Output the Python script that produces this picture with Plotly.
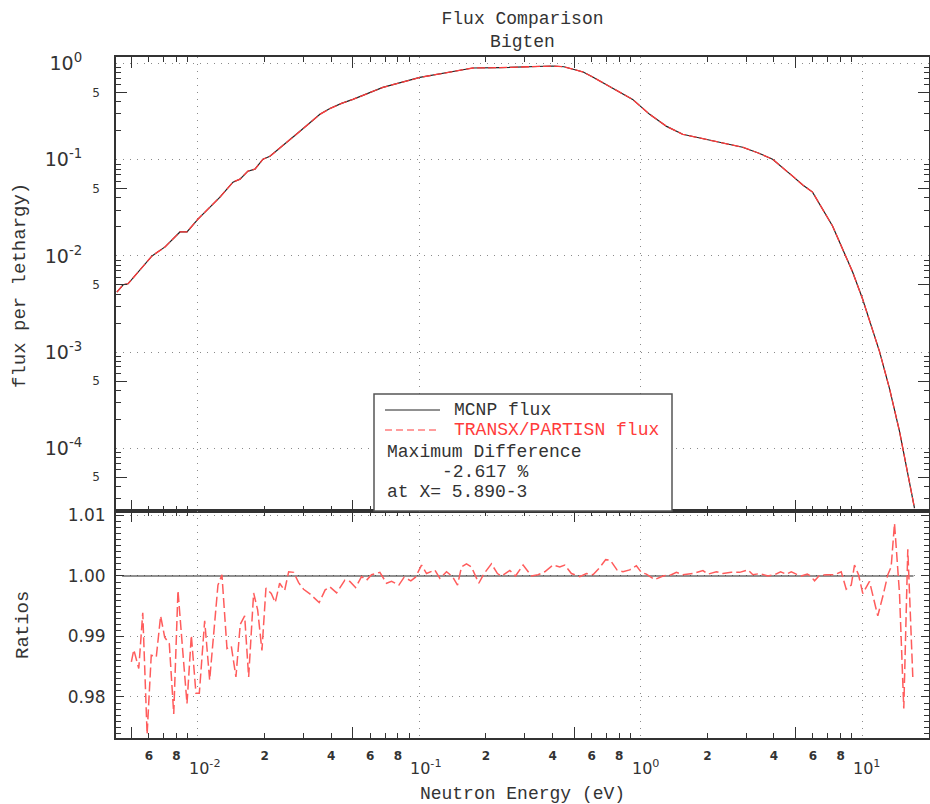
import math
import plotly.graph_objects as go

# ---------------- data ----------------
# Flux per lethargy (MCNP and TRANSX/PARTISN overlap in the top panel)
energy = [4.30e-3, 4.59e-3, 4.83e-3, 5.30e-3, 5.65e-3, 6.20e-3, 7.10e-3, 8.29e-3, 8.92e-3,
          1.0e-2, 1.169e-2, 1.257e-2, 1.439e-2, 1.548e-2, 1.681e-2, 1.808e-2, 1.966e-2,
          2.114e-2, 2.888e-2, 3.555e-2, 3.944e-2, 4.45e-2, 5.01e-2, 6.84e-2, 0.1005, 0.1373,
          0.1744, 0.2309, 0.28, 0.350, 0.4006, 0.45, 0.4932, 0.55, 0.6070, 0.7472, 0.920,
          1.098, 1.31, 1.547, 2.203, 2.887, 3.40, 3.944, 4.856, 5.40, 5.976, 7.358, 9.06,
          10.05, 12.0, 13.31, 14.77, 17.26]
flux = [4.20e-3, 5.01e-3, 5.13e-3, 6.51e-3, 7.69e-3, 1.0e-2, 1.24e-2, 1.773e-2, 1.773e-2,
        2.416e-2, 3.458e-2, 4.088e-2, 5.845e-2, 6.28e-2, 7.60e-2, 7.97e-2, 0.1012,
        0.1087, 0.1973, 0.2961, 0.3400, 0.3850, 0.4235, 0.5641, 0.716, 0.82,
        0.898, 0.905, 0.92, 0.942, 0.942, 0.925, 0.877, 0.816, 0.724, 0.557, 0.4235,
        0.296, 0.222, 0.1837, 0.1555, 0.1347, 0.1174, 0.1012, 0.0675, 0.0546, 0.04604,
        0.02046, 6.83e-3, 3.58e-3, 1.01e-3, 4.18e-4, 1.50e-4, 2.39e-5]

# Ratio TRANSX/PARTISN to MCNP
ratio_energy = [
    5.00e-3, 5.13e-3, 5.40e-3, 5.63e-3, 5.89e-3, 6.15e-3, 6.48e-3, 6.78e-3, 7.07e-3, 7.42e-3,
    7.77e-3, 8.12e-3, 8.53e-3, 8.92e-3, 9.33e-3, 9.79e-3, 1.014e-2, 1.072e-2, 1.129e-2, 1.231e-2,
    1.283e-2, 1.352e-2, 1.414e-2, 1.484e-2, 1.552e-2, 1.625e-2, 1.694e-2, 1.784e-2, 1.860e-2,
    1.945e-2, 2.028e-2, 2.143e-2, 2.234e-2, 2.338e-2, 2.463e-2, 2.568e-2, 2.705e-2, 2.849e-2,
    3.00e-2, 3.214e-2, 3.528e-2, 3.755e-2, 3.944e-2,
    4.229e-2, 4.61e-2, 4.856e-2, 5.152e-2, 5.484e-2, 5.776e-2, 6.084e-2, 6.633e-2, 7.11e-2,
    7.49e-2, 8.08e-2, 8.54e-2, 9.155e-2, 9.61e-2, 0.1023, 0.1078, 0.1175, 0.1238, 0.1327,
    0.1412, 0.1488, 0.1550, 0.1633, 0.1720, 0.1856, 0.1962, 0.2118, 0.2254, 0.2350, 0.2563,
    0.2719, 0.2943, 0.3210, 0.3439, 0.3687,
    0.4018, 0.4309, 0.4539, 0.4865, 0.5304, 0.5687, 0.6091, 0.6530, 0.6950, 0.7297, 0.7816,
    0.8321, 0.8921, 0.9563, 1.007, 1.061, 1.157, 1.261, 1.376, 1.450, 1.552, 1.722, 1.911,
    2.013, 2.197, 2.353, 2.567, 2.799, 3.051, 3.214, 3.445,
    3.756, 4.027, 4.287, 4.549, 4.791, 5.047, 5.316, 5.658, 5.855, 6.104, 6.429, 6.893, 7.514,
    8.054, 8.484, 8.936, 9.248, 9.643, 10.08, 10.81, 11.78, 12.41, 13.08, 13.54, 14.02, 14.77,
    15.44, 16.10, 16.96]
ratio = [
    0.9858, 0.9878, 0.9847, 0.9939, 0.97383, 0.9869, 0.9866, 0.9934, 0.9899, 0.9888,
    0.9772, 0.9976, 0.9877, 0.9789, 0.9902, 0.9806, 0.9806, 0.9926, 0.9828, 0.9985,
    1.0002, 0.9880, 0.9884, 0.9833, 0.9920, 0.9934, 0.9833, 0.9972, 0.9944,
    0.9877, 0.9980, 0.9971, 0.9956, 0.9988, 0.9976, 1.0007, 1.0006, 0.9989,
    0.9978, 0.9970, 0.9956, 0.9977, 0.9982,
    0.9972, 0.9993, 0.9991, 0.9981, 0.9999, 0.9993, 1.0002, 1.0006, 0.9988,
    0.9991, 0.9985, 0.9998, 0.9992, 0.9998, 1.0018, 1.0004, 1.0010, 0.9996, 1.0007,
    0.9999, 0.9985, 1.0015, 1.0020, 1.0015, 0.9988, 1.0004, 1.0020, 1.0004, 1.0000, 1.0009,
    1.0000, 1.0018, 1.0000, 1.0002, 1.0007,
    1.0018, 1.0015, 1.0018, 1.0004, 0.9999, 1.0004, 1.0002, 1.0014, 1.0027, 1.0026, 1.0010,
    1.0007, 1.0010, 1.0017, 1.0006, 1.0003, 0.9994, 1.0000, 1.0002, 1.0006, 1.0002, 1.0004, 1.0009,
    1.0003, 1.0007, 1.0004, 1.0006, 1.0006, 1.0010, 1.0002, 1.0004,
    1.0000, 1.0002, 1.0007, 1.0003, 1.0007, 1.0003, 1.0000, 1.0003, 1.0000, 0.9992, 1.0001, 1.0002, 1.0002,
    1.0007, 0.9978, 0.9985, 1.0018, 1.0002, 0.9971, 0.9991, 0.9934, 0.9966, 1.0002, 1.0015, 1.0087, 0.9971,
    0.9781, 1.0044, 0.9833]

mcnp_ratio_energy = [4.54e-3, 17.08]
mcnp_ratio = [1.0, 1.0]

# tick values / labels
x_label_vals = [6e-3, 8e-3, 2e-2, 4e-2, 6e-2, 8e-2, 0.2, 0.4, 0.6, 0.8, 2, 4, 6, 8, 20]
x_label_text = ["6", "8", "2", "4", "6", "8", "2", "4", "6", "8", "2", "4", "6", "8", "2"]
x_plain_vals = [5e-3, 7e-3, 9e-3, 3e-2, 5e-2, 7e-2, 9e-2, 0.3, 0.5, 0.7, 0.9, 3, 5, 7, 9]
x_half_vals = [5e-3, 5e-2, 0.5, 5]
x_decades = [1e-2, 1e-1, 1, 10]
x_decade_text = ["10<sup>-2</sup>", "10<sup>-1</sup>", "10<sup>0</sup>", "10<sup>1</sup>"]

y_decades = [1e-4, 1e-3, 1e-2, 1e-1, 1]
y_decade_text = ["10<sup>-4</sup>", "10<sup>-3</sup>", "10<sup>-2</sup>", "10<sup>-1</sup>", "10<sup>0</sup>"]
y_half_vals = [5e-5, 5e-4, 5e-3, 5e-2, 0.5]
y_half_text = ["5", "5", "5", "5", "5"]
y_minor_vals = [m * 10.0 ** e for e in range(-5, 0) for m in (2, 3, 4, 6, 7, 8, 9)
                if 2.3e-5 < m * 10.0 ** e < 1.1]

ratio_ticks = [0.98, 0.99, 1.00, 1.01]
ratio_tick_text = ["0.98", "0.99", "1.00", "1.01"]

legend_texts = ["MCNP flux", "TRANSX/PARTISN flux", "Maximum Difference", "-2.617 %", "at X= 5.890-3"]

# ---------------- style / layout constants ----------------
W, H = 930, 804
ML, MR, MT, MB = 116, 1, 57, 66
PW, PH = W - ML - MR, H - MT - MB
XR = [-2.3704, 1.3026]
YR_TOP = [-4.652, 0.0676]
YR_BOT = [0.97322, 1.01074]
MONO = "Liberation Mono, Courier New, monospace"
NUM = "DejaVu Sans, Verdana, sans-serif"
INK = "#333333"
RED = "#ff3b3b"


def px(x):
    return (x - ML) / PW


def py(y):
    return (H - MB - y) / PH


fig = go.Figure()
fig.add_trace(go.Scatter(x=energy, y=flux, mode="lines", xaxis="x", yaxis="y",
                         line=dict(color="#222222", width=1.2), name="MCNP flux"))
fig.add_trace(go.Scatter(x=energy, y=flux, mode="lines", xaxis="x", yaxis="y",
                         line=dict(color=RED, width=1.3, dash="8px,3px"), name="TRANSX/PARTISN flux"))
fig.add_trace(go.Scatter(x=mcnp_ratio_energy, y=mcnp_ratio, mode="lines", xaxis="x2", yaxis="y2",
                         line=dict(color="#222222", width=1.2), name="MCNP ratio"))
fig.add_trace(go.Scatter(x=ratio_energy, y=ratio, mode="lines", xaxis="x2", yaxis="y2",
                         line=dict(color="#ff5c5c", width=1.5, dash="10px,4px"), name="ratio"))
# empty traces so the tick-only overlay axes get their subplots
fig.add_trace(go.Scatter(x=[], y=[], xaxis="x3", yaxis="y", showlegend=False))
fig.add_trace(go.Scatter(x=[], y=[], xaxis="x4", yaxis="y2", showlegend=False))
fig.add_trace(go.Scatter(x=[], y=[], xaxis="x5", yaxis="y2", showlegend=False))
fig.add_trace(go.Scatter(x=[], y=[], xaxis="x", yaxis="y3", showlegend=False))
fig.add_trace(go.Scatter(x=[], y=[], xaxis="x", yaxis="y4", showlegend=False))

grid = dict(gridcolor="#8a8a8a", griddash="1px,6px", gridwidth=1)
frame = dict(showline=True, linecolor=INK, linewidth=2, mirror="ticks", zeroline=False, automargin=False)
tick5 = dict(ticks="inside", ticklen=5, tickwidth=1, tickcolor=INK)
bare = dict(showline=False, zeroline=False, automargin=False, showticklabels=False)

half_common = dict(type="log", range=XR, tickvals=x_half_vals, ticks="inside", ticklen=11,
                   tickwidth=1, tickcolor=INK, showgrid=False, mirror="ticks", **bare)

fig.update_layout(
    width=W, height=H,
    margin=dict(l=ML, r=MR, t=MT, b=MB, autoexpand=False),
    paper_bgcolor="white", plot_bgcolor="white",
    showlegend=False,
    title=dict(text="Flux Comparison<br>Bigten", x=0.5, xref="paper", xanchor="center",
               y=(H - 24) / H, yref="container", yanchor="middle",
               font=dict(family=MONO, size=18, color=INK)),
    # top panel energy axis: all ticks, no labels, dotted grid at decades
    xaxis=dict(domain=[0, 1], anchor="y", type="log", range=XR, showticklabels=False,
               tickvals=x_label_vals + x_plain_vals, showgrid=False, **tick5,
               minor=dict(tickmode="array", tickvals=x_decades, ticks="", showgrid=True, **grid),
               **frame),
    # bottom panel energy axis: labelled ticks + unlabelled minor ticks
    xaxis2=dict(domain=[0, 1], anchor="y2", type="log", range=XR,
                tickvals=x_label_vals, ticktext=x_label_text, showgrid=False, **tick5,
                minor=dict(tickmode="array", tickvals=x_plain_vals, showgrid=False, **tick5),
                tickfont=dict(family=NUM, size=12, color=INK, weight="bold"), ticklabelstandoff=6,
                title=dict(text="Neutron Energy (eV)", font=dict(family=MONO, size=18, color=INK),
                           standoff=26),
                **frame),
    xaxis3=dict(overlaying="x", anchor="y", **half_common),
    xaxis4=dict(overlaying="x2", anchor="y2", **half_common),
    xaxis5=dict(overlaying="x2", anchor="y2", type="log", range=XR, tickvals=x_decades,
                ticks="", showgrid=True, **grid, **bare),
    yaxis=dict(domain=[1 / 3, 1], anchor="x", type="log", range=YR_TOP,
               tickvals=y_decades, ticktext=y_decade_text, ticks="",
               tickfont=dict(family=NUM, size=19, color=INK), ticklabelstandoff=28,
               showgrid=True, **grid, **frame),
    yaxis3=dict(overlaying="y", anchor="x", type="log", range=YR_TOP,
                tickvals=y_half_vals, ticktext=y_half_text, ticks="inside", ticklen=11,
                tickwidth=1, tickcolor=INK, tickfont=dict(family=NUM, size=12, color=INK),
                ticklabelstandoff=15, showgrid=False, showline=False, zeroline=False,
                mirror="ticks", automargin=False),
    yaxis4=dict(overlaying="y", anchor="x", type="log", range=YR_TOP,
                tickvals=y_minor_vals, showgrid=False, mirror="ticks", **tick5, **bare),
    yaxis2=dict(domain=[0, 1 / 3], anchor="x2", range=YR_BOT,
                tickvals=ratio_ticks, ticktext=ratio_tick_text, ticks="inside", ticklen=8,
                tickwidth=1, tickcolor=INK, tickfont=dict(family=NUM, size=17, color=INK),
                ticklabelstandoff=5, showgrid=True, **grid,
                minor=dict(dtick=0.001, tick0=0.97, ticks="inside", ticklen=5, tickwidth=1,
                           tickcolor=INK, showgrid=False),
                **frame),
)

# vertical axis titles
fig.add_annotation(x=px(20), y=py(286), xref="paper", yref="paper", text="flux per lethargy)",
                   textangle=-90, showarrow=False, xanchor="center", yanchor="middle",
                   font=dict(family=MONO, size=19, color=INK))
fig.add_annotation(x=px(23), y=py(625), xref="paper", yref="paper", text="Ratios",
                   textangle=-90, showarrow=False, xanchor="center", yanchor="middle",
                   font=dict(family=MONO, size=19, color=INK))

# decade labels on the energy axis (set lower than the plain digits, as in the original)
for v, t in zip(x_decades, x_decade_text):
    fig.add_annotation(x=math.log10(v), xref="x2", y=py(768), yref="paper", text=t,
                       showarrow=False, xanchor="left", yanchor="middle", xshift=-11,
                       font=dict(family=NUM, size=16, color=INK))

# legend box
fig.add_shape(type="rect", xref="paper", yref="paper", x0=px(374), x1=px(672), y0=py(511), y1=py(394),
              fillcolor="white", line=dict(color="#555555", width=1.5), layer="above")
fig.add_shape(type="line", xref="paper", yref="paper", x0=px(385), x1=px(440), y0=py(410), y1=py(410),
              line=dict(color="#222222", width=1), layer="above")
fig.add_shape(type="line", xref="paper", yref="paper", x0=px(385), x1=px(440), y0=py(430), y1=py(430),
              line=dict(color=RED, width=1, dash="7px,4px"), layer="above")
legend_pos = [(452, 410, INK), (452, 430, RED), (385, 452, INK), (440, 472, INK), (385, 492, INK)]
for txt, (lx, ly, col) in zip(legend_texts, legend_pos):
    fig.add_annotation(x=px(lx), y=py(ly), xref="paper", yref="paper", text=txt, showarrow=False,
                       xanchor="left", yanchor="middle", font=dict(family=MONO, size=18, color=col))

fig.write_html("out.html", config={"displayModeBar": False},
               post_script="document.body.style.margin='0';document.body.style.overflow='hidden';")
